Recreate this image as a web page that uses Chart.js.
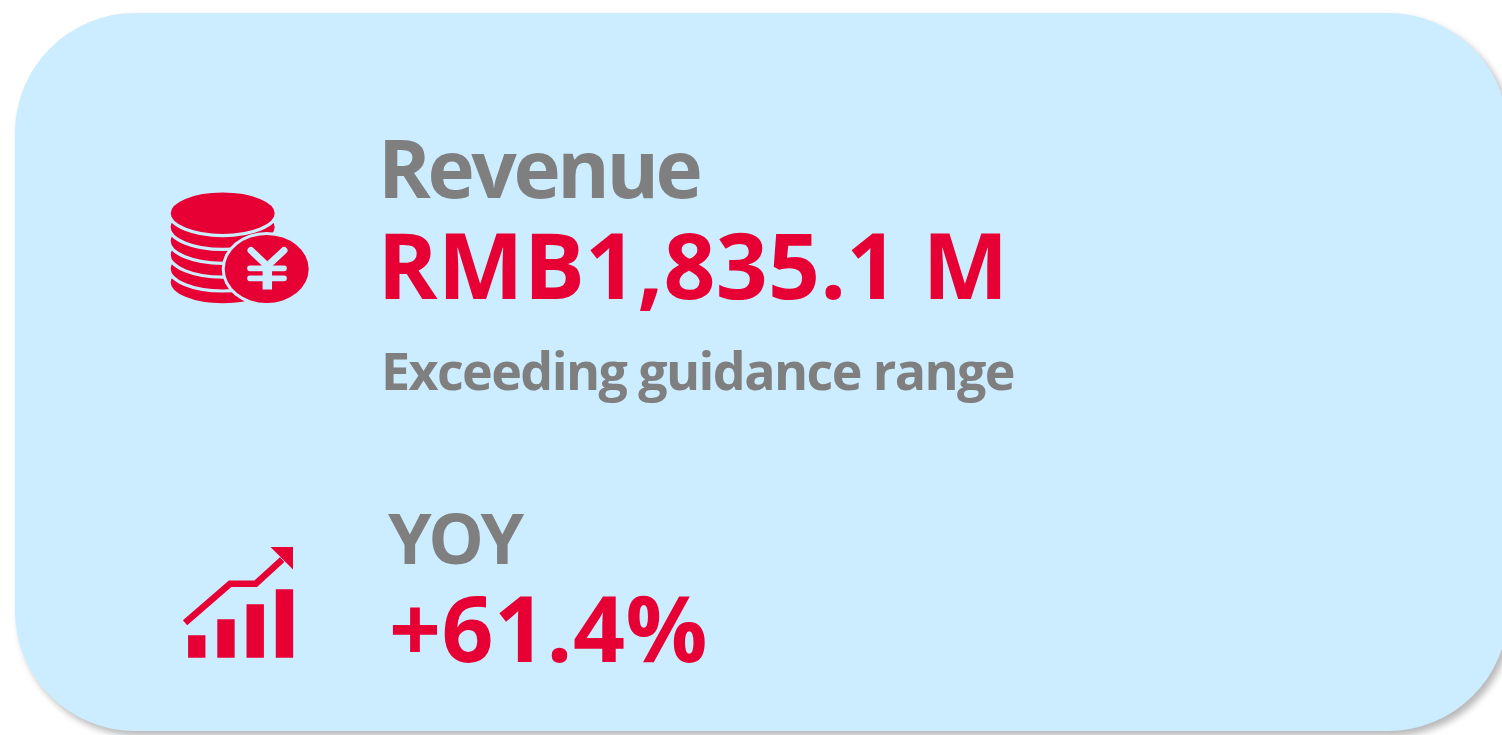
<!DOCTYPE html>
<html>
<head>
<meta charset="utf-8">
<style>
html, body { margin: 0; height: 100%; overflow: hidden; background: #fff; }
#growthChart { display: block; }
</style>
</head>
<body>
<canvas id="growthChart" width="1502" height="735"></canvas>
<script src="https://cdn.jsdelivr.net/npm/chart.js@4"></script>
<script>
const revenueTexts = ['Revenue', 'RMB1,835.1 M', 'Exceeding guidance range'];
const yoyTexts = ['YOY', '+61.4%'];

// growth icon, x in bar steps, y in icon units
const barSteps = [1, 2, 3, 4];
const barValues = [22, 38, 53, 68];
const trendSteps = [0.6, 2.14, 3.02, 3.92];
const trendValues = [35, 74, 74, 98];

const RED = '#e60033';
const GREY = '#7f7f7f';
const CARD = '#ccecff';

function label(c, text, x, y, size, color, spacing) {
    c.font = `700 ${size}px "Open Sans", sans-serif`;
    c.letterSpacing = `${spacing}px`;
    c.fillStyle = color;
    c.fillText(text, x, y);
}

function coinIcon(c) {
    for (let i = 5; i >= 0; i--) {
        c.beginPath();
        c.ellipse(222.7, 213.3 + i * 13.85, 53.6, 22.3, 0, 0, Math.PI * 2);
        c.fillStyle = RED;
        c.fill();
        c.strokeStyle = CARD;
        c.lineWidth = 3.2;
        c.stroke();
    }
    c.fillStyle = CARD;
    c.beginPath();
    c.ellipse(266.7, 269, 45, 37, 0, 0, Math.PI * 2);
    c.fill();
    c.fillStyle = RED;
    c.beginPath();
    c.ellipse(266.7, 269, 42, 34, 0, 0, Math.PI * 2);
    c.fill();
    // yen sign
    c.strokeStyle = CARD;
    c.lineCap = 'round';
    c.lineWidth = 7;
    c.beginPath();
    c.moveTo(251, 250.5); c.lineTo(267.3, 266); c.lineTo(284, 250.5);
    c.stroke();
    c.lineWidth = 5.7;
    c.beginPath();
    c.moveTo(250, 268.3); c.lineTo(284, 268.3);
    c.moveTo(250, 278.3); c.lineTo(284, 278.3);
    c.stroke();
    c.lineCap = 'butt';
    c.lineWidth = 9.5;
    c.beginPath();
    c.moveTo(267.3, 265); c.lineTo(267.3, 289.5);
    c.stroke();
}

const panel = {
    id: 'panel',
    beforeDraw(chart) {
        const c = chart.ctx;
        c.save();
        c.fillStyle = '#fff';
        c.fillRect(0, 0, 1502, 735);
        c.shadowColor = 'rgba(0,0,0,.28)';
        c.shadowBlur = 7;
        c.shadowOffsetX = 4;
        c.shadowOffsetY = 5;
        c.fillStyle = CARD;
        c.beginPath();
        c.roundRect(15, 13, 1493, 718, 120);
        c.fill();
        c.restore();

        c.save();
        coinIcon(c);
        label(c, revenueTexts[0], 378, 198, 80, GREY, -3.4);
        label(c, revenueTexts[1], 377.5, 299, 91, RED, 0.2);
        label(c, revenueTexts[2], 381, 390, 52, GREY, -1.6);
        label(c, yoyTexts[0], 388, 564, 70, GREY, -3.5);
        label(c, yoyTexts[1], 389, 662, 91, RED, 0.5);
        c.restore();
    }
};

const arrowHead = {
    id: 'arrowHead',
    afterDatasetsDraw(chart) {
        const { x, y } = chart.getDatasetMeta(1).data[trendSteps.length - 1];
        const c = chart.ctx;
        c.save();
        c.fillStyle = RED;
        c.beginPath();
        c.moveTo(x - 11.6, y - 12.6);
        c.lineTo(x + 10.9, y - 12.6);
        c.lineTo(x + 10.9, y + 9.7);
        c.closePath();
        c.fill();
        c.restore();
    }
};

new Chart(document.getElementById('growthChart'), {
    data: {
        datasets: [
            {
                type: 'bar',
                data: barSteps.map((s, i) => ({ x: s, y: barValues[i] })),
                backgroundColor: RED,
                barThickness: 16.7
            },
            {
                type: 'line',
                data: trendSteps.map((s, i) => ({ x: s, y: trendValues[i] })),
                borderColor: RED,
                borderWidth: 6.5,
                pointRadius: 0,
                tension: 0
            }
        ]
    },
    options: {
        responsive: false,
        animation: false,
        layout: { padding: { left: 167.5, right: 1188.3, top: 539.7, bottom: 77.3 } },
        plugins: { legend: { display: false }, tooltip: { enabled: false } },
        scales: {
            x: { type: 'linear', min: 0, max: 5, offset: false, display: false },
            y: { min: 0, max: 118, display: false }
        }
    },
    plugins: [panel, arrowHead]
});
</script>
</body>
</html>
